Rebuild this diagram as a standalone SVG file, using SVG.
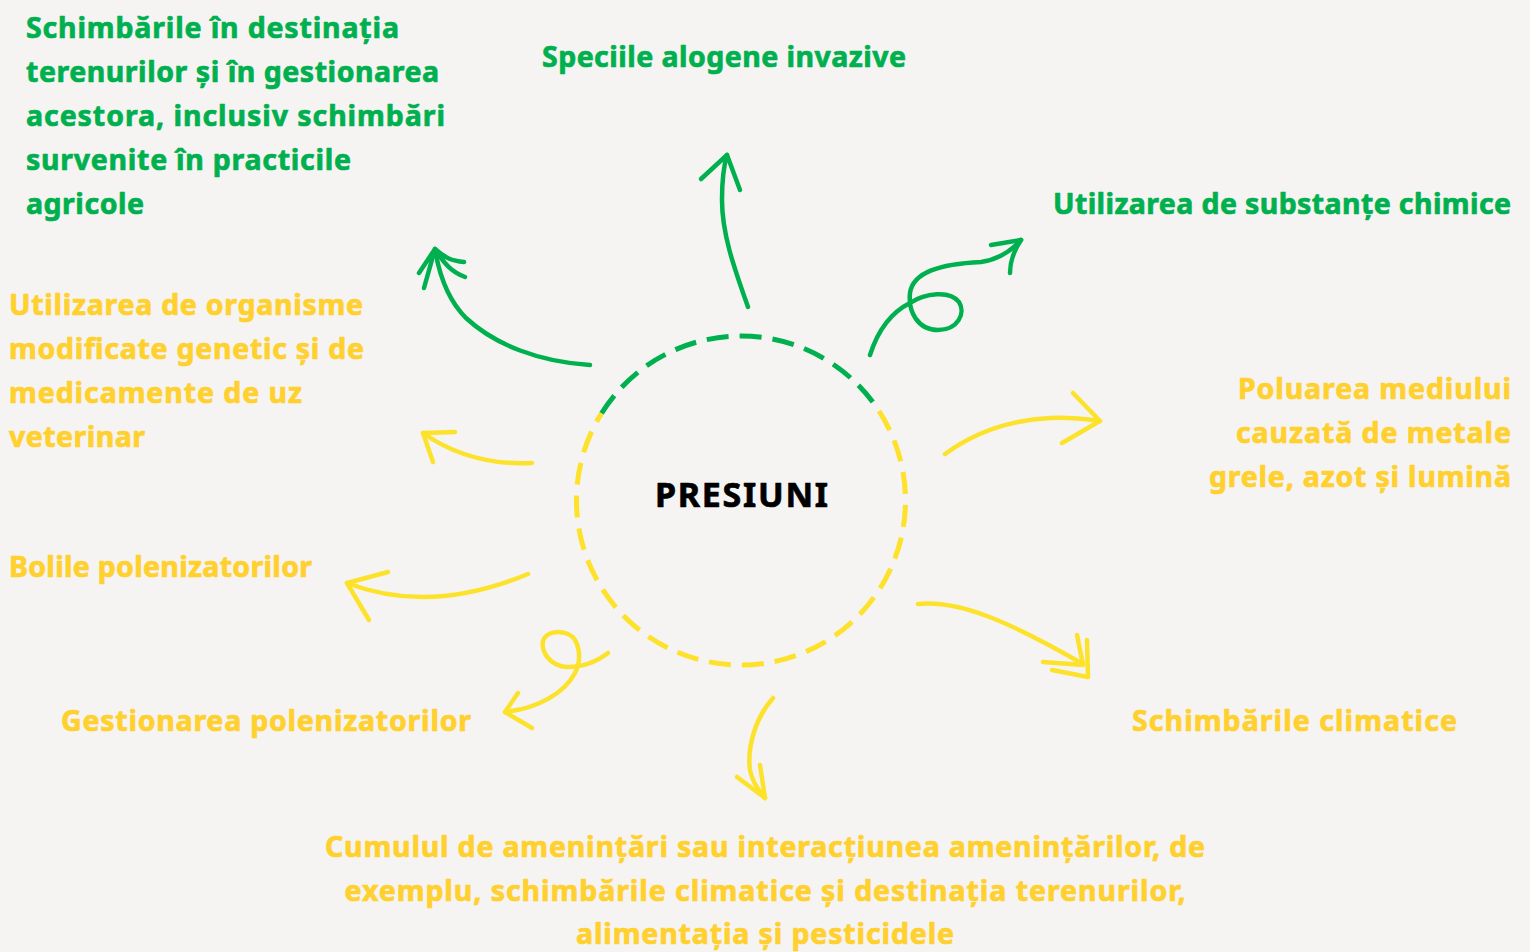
<svg xmlns="http://www.w3.org/2000/svg" width="1530" height="952" viewBox="0 0 1530 952">
<style>
text{font-family:"Noto Sans","Liberation Sans",sans-serif;font-weight:700;font-size:28.5px;stroke-width:0.7px;stroke-linejoin:round}
.g{fill:#00b04f;stroke:#00b04f}
.y{fill:#ffd02e;stroke:#ffd02e}
.k{fill:#000;stroke:#000;font-size:34px}
.ag{fill:none;stroke:#00b04f;stroke-width:4.5;stroke-linecap:round;stroke-linejoin:round}
.ay{fill:none;stroke:#fde22b;stroke-width:4.5;stroke-linecap:round;stroke-linejoin:round}
.cg{fill:none;stroke:#00b04f;stroke-width:5;stroke-dasharray:22 11}
.cy{fill:none;stroke:#fde12a;stroke-width:5;stroke-dasharray:22 11}
</style>
<rect width="1530" height="952" fill="#f5f4f2"/>

<g id="center">
<path class="cg" d="M601.5,413.3 A164.5,164.5 0 0 1 879,411"/>
<path class="cy" d="M879,411 A164.5,164.5 0 1 1 601.5,413.3"/>
<text class="k" x="741.5" y="507" text-anchor="middle" textLength="173">PRESIUNI</text>
</g>

<g id="connectors">
<path class="ag" d="M590,365 C540,362 495,345 466,318 C450,302 440,280 435,249"/>
<path class="ag" d="M435,249 L419,273 M435,249 L424,288 M435,249 C445,258 452,261 464,262 M435,249 C445,265 452,272 465,277"/>
<path class="ag" d="M748,307 C735,270 722,235 722,200 C722,180 724,165 727,155"/>
<path class="ag" d="M727,155 L701,179 M727,155 L740,190"/>
<path class="ag" d="M870,355 C878,330 892,312 910,303 C925,293 950,290 959,302 C966,313 958,330 938,330 C918,330 908,312 910,293 C913,272 940,264 981,262 C995,260 1010,252 1021,240"/>
<path class="ag" d="M1021,240 L991,245 M1021,240 C1013,252 1010,262 1010,273"/>
<path class="ay" d="M945,454 C975,432 1010,420 1050,418 C1070,417 1085,419 1100,421"/>
<path class="ay" d="M1100,421 L1073,393 M1100,421 L1062,443"/>
<path class="ay" d="M918,604 C960,600 1010,622 1083,664"/>
<path class="ay" d="M1077,635 L1083,665 L1043,662 M1087,640 L1088,677 L1052,670"/>
<path class="ay" d="M773,698 C755,718 747,748 750,770 C752,782 758,790 765,798"/>
<path class="ay" d="M765,798 L737,777 M765,798 L760,765"/>
<path class="ay" d="M608,653 Q590,667 567,667 C550,666 541,652 543,641 C546,632 558,630 568,634 C580,639 582,660 575,673 C565,692 540,708 505,712"/>
<path class="ay" d="M505,712 L518,693 M505,712 L532,728"/>
<path class="ay" d="M528,574 Q430,615 347,583"/>
<path class="ay" d="M347,583 L388,572 M347,583 L369,620"/>
<path class="ay" d="M532,463 Q470,466 423,433"/>
<path class="ay" d="M423,433 L455,432 M423,433 L433,462"/>
</g>

<g id="n-terenuri">
<text class="g" x="26" y="38" textLength="373">Schimbările în destinația</text>
<text class="g" x="26" y="82" textLength="413">terenurilor și în gestionarea</text>
<text class="g" x="26" y="126" textLength="419">acestora, inclusiv schimbări</text>
<text class="g" x="26" y="170" textLength="325">survenite în practicile</text>
<text class="g" x="26" y="214" textLength="118">agricole</text>
</g>

<g id="n-specii">
<text class="g" x="542" y="67" textLength="364">Speciile alogene invazive</text>
</g>

<g id="n-chimice">
<text class="g" x="1053" y="214" textLength="458">Utilizarea de substanțe chimice</text>
</g>

<g id="n-poluare">
<text class="y" x="1511" y="399" text-anchor="end" textLength="273">Poluarea mediului</text>
<text class="y" x="1511" y="443" text-anchor="end" textLength="275">cauzată de metale</text>
<text class="y" x="1511" y="487" text-anchor="end" textLength="302">grele, azot și lumină</text>
</g>

<g id="n-climatice">
<text class="y" x="1132" y="731" textLength="325">Schimbările climatice</text>
</g>

<g id="n-cumul">
<text class="y" x="765" y="857" text-anchor="middle" textLength="880">Cumulul de amenințări sau interacțiunea amenințărilor, de</text>
<text class="y" x="765" y="901" text-anchor="middle" textLength="841">exemplu, schimbările climatice și destinația terenurilor,</text>
<text class="y" x="765" y="944" text-anchor="middle" textLength="378">alimentația și pesticidele</text>
</g>

<g id="n-gestionare">
<text class="y" x="61" y="731" textLength="410">Gestionarea polenizatorilor</text>
</g>

<g id="n-boli">
<text class="y" x="9" y="577" textLength="303">Bolile polenizatorilor</text>
</g>

<g id="n-ogm">
<text class="y" x="9" y="315" textLength="354">Utilizarea de organisme</text>
<text class="y" x="9" y="359" textLength="355">modificate genetic și de</text>
<text class="y" x="9" y="403" textLength="293">medicamente de uz</text>
<text class="y" x="9" y="447" textLength="136">veterinar</text>
</g>
</svg>
